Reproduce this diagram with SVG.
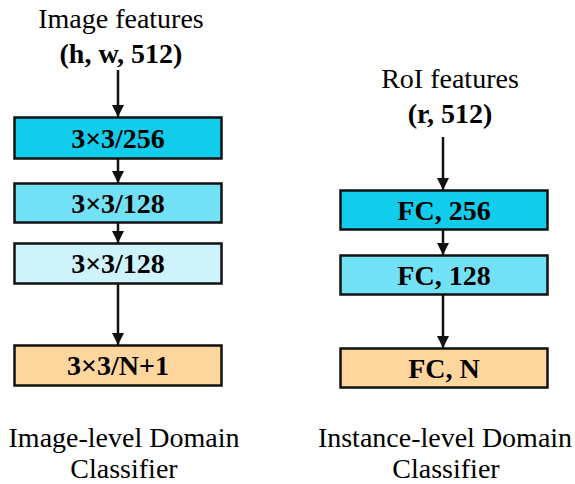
<svg xmlns="http://www.w3.org/2000/svg" width="575" height="484" viewBox="0 0 575 484">
<defs>
<marker id="ah" markerUnits="userSpaceOnUse" markerWidth="12" markerHeight="12" viewBox="0 0 12 12" refX="12" refY="6" orient="auto">
<path d="M0,0 L12,6 L0,12 Z" fill="#111"/>
</marker>
</defs>
<style>
.box{stroke:#111;stroke-width:2.5}
text{font-family:'Liberation Serif','Times New Roman',Times,serif;font-size:28px;text-anchor:middle;fill:#000}
.lbl{font-weight:bold}
.con{stroke:#111;stroke-width:2.5;fill:none;marker-end:url(#ah)}
</style>
<rect width="575" height="484" fill="#fff"/>
<g id="title-left" font-family="Liberation Serif, serif">
<text x="121" y="28">Image features</text>
<text class="lbl" x="121" y="63">(h, w, 512)</text>
</g>
<g id="title-right" font-family="Liberation Serif, serif">
<text x="450" y="88">RoI features</text>
<text class="lbl" x="450" y="123">(r, 512)</text>
</g>
<g id="conv1"><rect class="box" x="14.5" y="117.5" width="207" height="41" fill="#12CCEB"/><text class="lbl" x="118" y="148">3×3/256</text></g>
<g id="conv2"><rect class="box" x="14.5" y="183.5" width="207" height="39" fill="#72E1F5"/><text class="lbl" x="118" y="213">3×3/128</text></g>
<g id="conv3"><rect class="box" x="14.5" y="243.5" width="207" height="40" fill="#CEF3FB"/><text class="lbl" x="118" y="273">3×3/128</text></g>
<g id="conv4"><rect class="box" x="14.5" y="345.5" width="207" height="40" fill="#FCD69C"/><text class="lbl" x="118" y="375">3×3/N+1</text></g>
<g id="fc1"><rect class="box" x="340.5" y="190.5" width="207" height="39" fill="#12CCEB"/><text class="lbl" x="444" y="220">FC, 256</text></g>
<g id="fc2"><rect class="box" x="340.5" y="255.5" width="207" height="39" fill="#72E1F5"/><text class="lbl" x="444" y="285">FC, 128</text></g>
<g id="fc3"><rect class="box" x="340.5" y="348.5" width="207" height="39" fill="#FCD69C"/><text class="lbl" x="444" y="378">FC, N</text></g>
<g id="caption-left">
<text x="124" y="447">Image-level Domain</text>
<text x="124" y="478">Classifier</text>
</g>
<g id="caption-right">
<text x="445" y="447">Instance-level Domain</text>
<text x="446" y="478">Classifier</text>
</g>
<g id="connectors">
<line class="con" x1="118" y1="70" x2="118" y2="117"/>
<line class="con" x1="118" y1="159" x2="118" y2="183"/>
<line class="con" x1="118" y1="223" x2="118" y2="243"/>
<line class="con" x1="118" y1="284" x2="118" y2="345"/>
<line class="con" x1="443" y1="137" x2="443" y2="190"/>
<line class="con" x1="443" y1="230" x2="443" y2="255"/>
<line class="con" x1="443" y1="295" x2="443" y2="348"/>
</g>
</svg>
